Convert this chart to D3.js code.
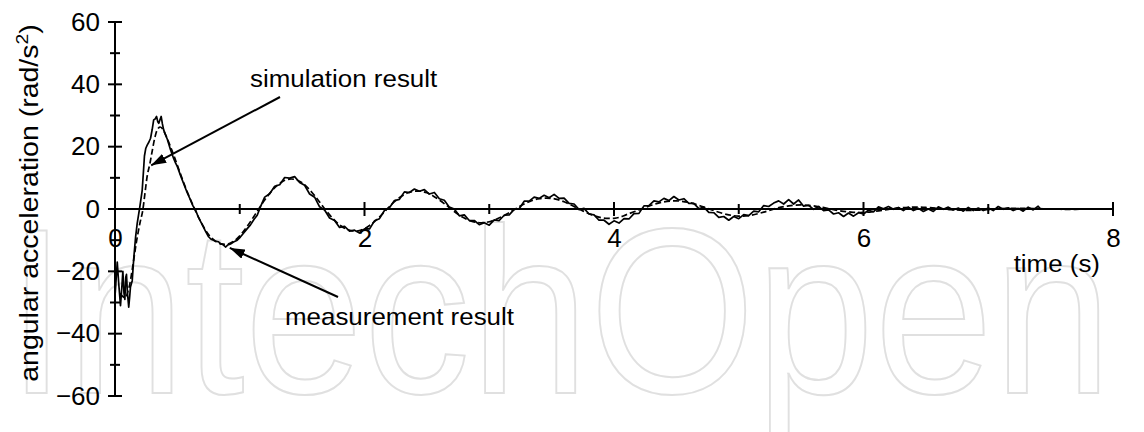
<!DOCTYPE html>
<html>
<head>
<meta charset="utf-8">
<script src="https://cdn.jsdelivr.net/npm/d3@7"></script>
<style>
  html, body { margin: 0; padding: 0; background: #fff; }
  svg { display: block; font-family: "Liberation Sans", Arial, sans-serif; }
</style>
</head>
<body>
<svg id="chart" width="1144" height="432"></svg>
<script>
// ---- data -------------------------------------------------------------
const xMajorTicks = [0, 2, 4, 6, 8];
const xMinorTicks = [1, 3, 5, 7];
const yMajorTicks = [-60, -40, -20, 0, 20, 40, 60];
const yMinorTicks = [-50, -30, -10, 10, 30, 50];

// measured angular acceleration [time (s), rad/s^2]
const measurement = [
  [0.000,-28],[0.010,-22],[0.018,-17],[0.030,-24],[0.044,-31],[0.055,-25],
  [0.063,-20],[0.072,-27],[0.079,-29],[0.086,-22],[0.092,-21],[0.100,-27],
  [0.110,-31.5],[0.118,-28],[0.124,-25],[0.138,-23],[0.150,-16],[0.165,-9],
  [0.178,-4.6],[0.199,0.7],[0.218,6],[0.228,12],[0.236,17],[0.247,19.5],
  [0.258,20.5],[0.272,21.5],[0.285,22.7],[0.298,25.5],[0.310,28.6],[0.322,28.9],
  [0.333,29.7],[0.343,28],[0.351,27.5],[0.362,28.8],[0.370,29.7],[0.380,27.3],
  [0.390,25.4],[0.405,23.8],[0.420,22.3],[0.445,19],[0.470,16.2],[0.485,14.8],
  [0.500,13.6],[0.525,10.8],[0.550,8.2],[0.578,5.3],[0.605,2.9],[0.625,1.0],
  [0.645,-0.3],[0.670,-2.8],[0.700,-5.1],[0.725,-7.1],[0.750,-8.9],[0.770,-9.7],
  [0.790,-10.0],[0.810,-10.4],[0.830,-10.5],[0.846,-11.2],[0.866,-11.4],[0.886,-12.2],
  [0.905,-11.5],[0.926,-11.2],[0.950,-10.6],[0.980,-10.0],[1.005,-9.0],[1.030,-7.8],
  [1.060,-6.3],[1.086,-5.1],[1.115,-3.3],[1.140,-2.0],[1.165,0.6],[1.190,2.9],
  [1.20,3.8],[1.24,4.9],[1.28,7.3],[1.32,7.8],[1.36,10.1],[1.40,9.9],
  [1.44,10.4],[1.48,8.5],[1.52,7.6],[1.56,4.8],[1.60,3.8],[1.64,0.7],
  [1.68,-0.3],[1.72,-2.9],[1.76,-3.7],[1.80,-5.9],[1.84,-5.6],[1.88,-7.1],
  [1.92,-6.8],[1.96,-7.7],[2.00,-6.4],[2.04,-6.4],[2.08,-3.8],[2.12,-3.1],
  [2.16,-0.5],[2.20,0.4],[2.24,2.7],[2.28,3.1],[2.32,5.5],[2.36,5.3],
  [2.40,6.4],[2.44,5.7],[2.48,6.2],[2.52,4.8],[2.56,5.3],[2.60,3.3],
  [2.64,2.8],[2.68,0.6],[2.72,0.0],[2.76,-2.2],[2.80,-1.9],[2.84,-3.7],
  [2.88,-3.7],[2.92,-5.0],[2.96,-4.4],[3.00,-5.2],[3.04,-3.5],[3.08,-3.7],
  [3.12,-2.0],[3.16,-1.9],[3.20,-0.1],[3.24,0.1],[3.28,2.5],[3.32,2.5],
  [3.36,3.8],[3.40,3.4],[3.44,4.4],[3.48,3.6],[3.52,4.7],[3.56,3.4],
  [3.60,3.5],[3.64,1.8],[3.68,1.6],[3.72,-0.2],[3.76,0.2],[3.80,-1.6],
  [3.84,-1.9],[3.88,-3.6],[3.92,-3.6],[3.96,-4.9],[4.00,-3.8],[4.04,-4.5],
  [4.08,-3.1],[4.12,-3.2],[4.16,-1.5],[4.20,-1.4],[4.24,1.0],[4.28,1.1],
  [4.32,2.6],[4.36,2.3],[4.40,3.4],[4.44,2.7],[4.48,4.0],[4.52,2.9],
  [4.56,3.3],[4.60,1.8],[4.64,1.8],[4.68,0.1],[4.72,0.6],[4.76,-1.1],
  [4.80,-1.2],[4.84,-2.7],[4.88,-2.4],[4.92,-3.6],[4.96,-2.4],[5.00,-3.1],
  [5.04,-1.8],[5.08,-2.1],[5.12,-0.7],[5.16,-0.9],[5.20,1.1],[5.24,0.8],
  [5.28,1.9],[5.32,2.6],[5.36,1.6],[5.40,3.0],[5.44,1.6],[5.48,2.9],
  [5.52,0.9],[5.56,1.2],[5.60,-0.1],[5.64,0.8],[5.68,-0.5],[5.72,-0.3],
  [5.76,-1.6],[5.80,-1.2],[5.84,-2.4],[5.88,-1.3],[5.92,-2.3],[5.96,-1.2],
  [6.00,-1.6],[6.04,-0.4],[6.08,-0.9],[6.12,0.7],[6.16,0.1],[6.20,0.8],
  [6.24,-0.1],[6.28,0.5],[6.32,-0.5],[6.36,0.6],[6.40,-0.5],[6.44,0.2],
  [6.48,-0.8],[6.52,0.0],[6.56,-0.8],[6.60,0.7],[6.64,-0.1],[6.68,0.6],
  [6.72,-0.3],[6.76,0.3],[6.80,-0.7],[6.84,0.5],[6.88,-0.5],[6.92,0.3],
  [6.96,-0.5],[7.00,0.3],[7.04,-0.5],[7.08,0.8],[7.12,-0.1],[7.16,0.4],
  [7.20,-0.5],[7.24,0.2],[7.28,-0.7],[7.32,0.6],[7.36,-0.3],[7.40,0.9],
  [7.42,0.0]
];

// simulated angular acceleration [time (s), rad/s^2]
const simulation = [
  [0.04,-27],[0.08,-28.5],[0.11,-25.5],[0.14,-19],[0.17,-11],[0.20,-4.5],
  [0.22,-1],[0.24,5],[0.26,11],[0.28,14.6],[0.30,19],[0.32,23],
  [0.34,25.5],[0.36,26.3],[0.38,25.8],[0.40,24.3],[0.45,19.5],[0.50,14],
  [0.55,8.5],[0.60,3.5],[0.65,-1],[0.70,-5],[0.75,-8.2],[0.80,-10.2],
  [0.85,-11.2],[0.90,-11.3],[0.95,-10.4],[1.00,-8.6],[1.05,-6.1],[1.10,-3.2],
  [1.15,-0.1],[1.20,2.9],[1.25,5.5],[1.30,7.6],[1.35,9.0],[1.40,9.6],
  [1.45,9.4],[1.50,8.4],[1.55,6.6],[1.60,4.3],[1.65,1.7],[1.70,-0.9],
  [1.75,-3.2],[1.80,-5.1],[1.85,-6.4],[1.90,-7.0],[1.95,-7.0],[2.00,-6.3],
  [2.05,-5.0],[2.10,-3.3],[2.15,-1.3],[2.20,0.8],[2.25,2.7],[2.30,4.2],
  [2.35,5.2],[2.40,5.7],[2.45,5.7],[2.50,5.2],[2.55,4.2],[2.60,2.9],
  [2.65,1.4],[2.70,-0.2],[2.75,-1.7],[2.80,-2.9],[2.85,-3.8],[2.90,-4.3],
  [2.95,-4.4],[3.00,-4.1],[3.05,-3.4],[3.10,-2.5],[3.15,-1.4],[3.20,-0.2],
  [3.25,1.0],[3.30,2.0],[3.35,2.8],[3.40,3.3],[3.45,3.5],[3.50,3.4],
  [3.55,3.0],[3.60,2.3],[3.65,1.4],[3.70,0.4],[3.75,-0.6],[3.80,-1.5],
  [3.85,-2.3],[3.90,-2.8],[3.95,-3.0],[4.00,-3.0],[4.05,-2.6],[4.10,-1.8],
  [4.20,-0.3],[4.30,1.2],[4.40,2.3],[4.50,2.6],[4.60,2.1],[4.70,0.9],
  [4.80,-0.5],[4.90,-1.7],[5.00,-2.3],[5.10,-2.0],[5.20,-1.0],[5.30,0.2],
  [5.40,1.0],[5.50,1.3],[5.60,1.0],[5.70,0.3],[5.80,-0.5],[5.90,-1.0],
  [6.00,-1.1],[6.10,-0.7],[6.20,-0.1],[6.30,0.4],[6.40,0.6],[6.50,0.5],
  [6.60,0.2],[6.70,-0.2],[6.80,-0.4],[6.90,-0.4],[7.00,-0.2],[7.10,0.1],
  [7.20,0.2],[7.30,0.2],[7.40,0.1],[7.50,0.0],[7.60,-0.1],[7.70,-0.1],
  [7.80,0.0],[7.90,0.0],[8.00,0.0]
];

// ---- layout -----------------------------------------------------------
const svg = d3.select("#chart");
const x = d3.scaleLinear().domain([0, 8]).range([115, 1113]);
const y = d3.scaleLinear().domain([-60, 60]).range([396, 22]);
const MINUS = "\u2212";
const fmt = d => (d < 0 ? MINUS + Math.abs(d) : String(d));
const FONT = "'Liberation Sans', Arial, sans-serif";
const WIDEN = 1.08;   // slightly extended lettering

// background publisher mark (outlined letters)
svg.append("text")
  .attr("x", 7).attr("y", 393)
  .attr("textLength", 1105)
  .attr("lengthAdjust", "spacingAndGlyphs")
  .style("font-family", FONT)
  .style("font-size", "236px")
  .attr("fill", "none")
  .attr("stroke", "#e0e0e0")
  .attr("stroke-width", 2)
  .text("IntechOpen");

// ---- axes -------------------------------------------------------------
const axisColor = "#000";
const yAxis = svg.append("g").attr("transform", `translate(${x(0)},0)`);
yAxis.call(d3.axisLeft(y).tickValues(yMajorTicks).tickFormat(fmt).tickSize(0).tickPadding(15))
  .call(g => g.select(".domain").remove())
  .call(g => g.selectAll("text").style("font-size", "26px").attr("fill", "#000")
                .style("font-family", FONT));

const xAxis = svg.append("g").attr("transform", `translate(0,${y(0)})`);
xAxis.call(d3.axisBottom(x).tickValues(xMajorTicks).tickFormat(fmt).tickSize(0).tickPadding(20))
  .call(g => g.select(".domain").remove())
  .call(g => g.selectAll("text").style("font-size", "26px").attr("fill", "#000")
                .style("font-family", FONT));

// axis lines
svg.append("line").attr("x1", x(0)).attr("x2", x(0)).attr("y1", y(60)).attr("y2", y(-60))
  .attr("stroke", axisColor).attr("stroke-width", 2);
svg.append("line").attr("x1", x(0)).attr("x2", x(8)).attr("y1", y(0)).attr("y2", y(0))
  .attr("stroke", axisColor).attr("stroke-width", 2);

// crossing tick marks
svg.append("g").selectAll("line").data(yMajorTicks).join("line")
  .attr("x1", x(0) - 7).attr("x2", x(0) + 7).attr("y1", d => y(d)).attr("y2", d => y(d))
  .attr("stroke", axisColor).attr("stroke-width", 2);
svg.append("g").selectAll("line").data(yMinorTicks).join("line")
  .attr("x1", x(0) - 5).attr("x2", x(0) + 5).attr("y1", d => y(d)).attr("y2", d => y(d))
  .attr("stroke", axisColor).attr("stroke-width", 2);
svg.append("g").selectAll("line").data(xMajorTicks.filter(d => d > 0)).join("line")
  .attr("x1", d => x(d)).attr("x2", d => x(d)).attr("y1", y(0) - 7).attr("y2", y(0) + 7)
  .attr("stroke", axisColor).attr("stroke-width", 2);
svg.append("g").selectAll("line").data(xMinorTicks).join("line")
  .attr("x1", d => x(d)).attr("x2", d => x(d)).attr("y1", y(0) - 5).attr("y2", y(0) + 5)
  .attr("stroke", axisColor).attr("stroke-width", 2);

// axis titles
const yTitle = svg.append("text")
  .attr("transform", `translate(38,${(y(60) + y(-60)) / 2 - 6}) rotate(-90) scale(1.14,1)`)
  .attr("text-anchor", "middle")
  .style("font-size", "25px");
yTitle.append("tspan").text("angular acceleration (rad/s");
yTitle.append("tspan").attr("dy", -10).style("font-size", "17px").text("2");
yTitle.append("tspan").attr("dy", 10).text(")");

svg.append("text")
  .attr("transform", `translate(1100,272) scale(${WIDEN},1)`)
  .attr("text-anchor", "end")
  .style("font-size", "24px").text("time (s)");

// ---- series -----------------------------------------------------------
svg.append("path").datum(simulation)
  .attr("d", d3.line().x(d => x(d[0])).y(d => y(d[1])).curve(d3.curveCatmullRom))
  .attr("fill", "none").attr("stroke", "#000").attr("stroke-width", 1.7)
  .attr("stroke-dasharray", "6,3");

svg.append("path").datum(measurement)
  .attr("d", d3.line().x(d => x(d[0])).y(d => y(d[1])))
  .attr("fill", "none").attr("stroke", "#000").attr("stroke-width", 1.7)
  .attr("stroke-linejoin", "round");

// ---- annotations ------------------------------------------------------
svg.append("defs").append("marker")
  .attr("id", "head").attr("viewBox", "0 0 15 10").attr("refX", 15).attr("refY", 5)
  .attr("markerWidth", 15).attr("markerHeight", 10).attr("markerUnits", "userSpaceOnUse")
  .attr("orient", "auto")
  .append("path").attr("d", "M0,0 L15,5 L0,10 Z").attr("fill", "#000");

const notes = [
  { label: "simulation result", tx: 250, ty: 87, from: [280, 97], to: [0.29, 14] },
  { label: "measurement result", tx: 285, ty: 325, from: [338, 297], to: [0.92, -12.5] }
];
notes.forEach(n => {
  svg.append("line")
    .attr("x1", n.from[0]).attr("y1", n.from[1])
    .attr("x2", x(n.to[0])).attr("y2", y(n.to[1]))
    .attr("stroke", "#000").attr("stroke-width", 2)
    .attr("marker-end", "url(#head)");
  svg.append("text")
    .attr("transform", `translate(${n.tx},${n.ty}) scale(${WIDEN},1)`)
    .style("font-size", "24px").text(n.label);
});
</script>
</body>
</html>
